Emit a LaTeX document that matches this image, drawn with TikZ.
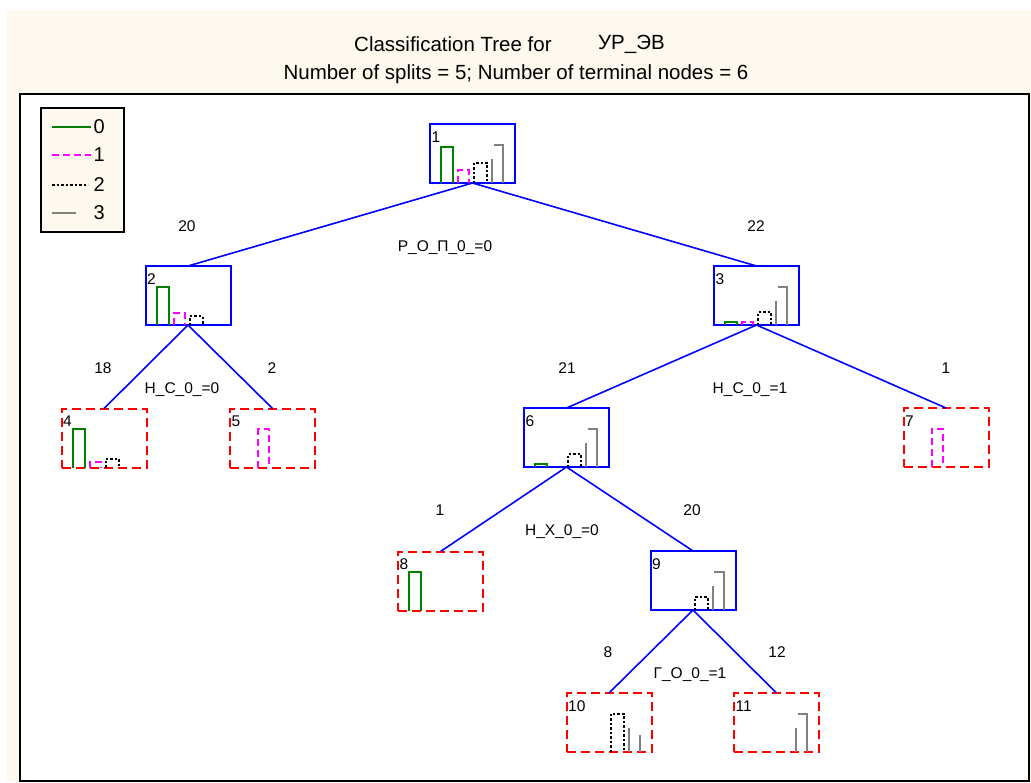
\documentclass[tikz,border=0pt]{standalone}
\usepackage{fontspec}
\setmainfont{Liberation Sans}
\usetikzlibrary{calc}
\definecolor{cream}{RGB}{254,249,238}
\definecolor{dgreen}{RGB}{0,128,0}
\definecolor{mag}{RGB}{255,0,255}
\definecolor{gry}{RGB}{128,128,128}
\tikzset{
  splitbox/.style={draw=blue, line width=2pt, minimum width=85pt, minimum height=59pt, inner sep=0pt, outer sep=0pt},
  termbox/.style={draw=red, line width=2pt, dash pattern=on 9pt off 5pt, minimum width=85pt, minimum height=59pt, inner sep=0pt, outer sep=0pt},
  conn/.style={blue, line width=1.6pt},
  lbl/.style={font=\fontsize{15.5}{18}\selectfont, inner sep=0pt},
  numlbl/.style={font=\fontsize{15.5}{18}\selectfont, inner sep=0pt, anchor=base west},
  legtxt/.style={font=\fontsize{20}{24}\selectfont, inner sep=0pt, anchor=west},
  ttl/.style={font=\fontsize{20.5}{24}\selectfont, inner sep=0pt},
  cA/.style={dgreen, line width=2pt},
  cB/.style={mag, line width=2pt, dash pattern=on 7pt off 4pt},
  cC/.style={black, line width=2pt, dash pattern=on 2.5pt off 2pt},
  cD/.style={gry, line width=2pt, dash pattern=on 24pt off 16pt on 300pt off 1pt},
}
\newcommand\hbars[5]{%
  \ifdim #2pt>0pt \draw[cA] ($(#1.south west)+(11,0)$) -- ++(0,-#2) -- ++(12,0) -- ++(0,#2);\fi
  \ifdim #3pt>0pt \draw[cB] ($(#1.south west)+(28,0)$) -- ++(0,-#3) -- ++(11,0) -- ++(0,#3);\fi
  \ifdim #4pt>0pt \draw[cC] ($(#1.south west)+(44,0)$) -- ++(0,-#4) -- ++(13,0) -- ++(0,#4);\fi
  \ifdim #5pt>0pt \draw[cD] ($(#1.south west)+(62,0)$) -- ++(0,-#5) -- ++(11,0) -- ++(0,#5);\fi}
\newcommand\boxnum[2]{\node[numlbl] at ($(#1.north west)+(1.5,18)$) {#2};}
\begin{document}
\begin{tikzpicture}[x=1pt,y=-1pt]
\useasboundingbox (0,0) rectangle (1031,782);
\fill[white] (0,0) rectangle (1031,782);
\fill[cream] (7,10) rectangle (1031,782);
\draw[line width=2pt, fill=white] (20,94) rectangle (1029,781);

% title
\node[ttl, anchor=west] (t1) at (354,44) {Classification Tree for};
\node[ttl, anchor=west] (t2) at (598,44) {УР\_ЭВ};
\node[ttl] (t3) at (516,74) {Number of splits = 5; Number of terminal nodes = 6};

% legend
\node[draw=black, line width=1.5pt, fill=cream, minimum width=83pt, minimum height=124pt, inner sep=0pt, outer sep=0pt] (leg) at (82.5,170) {};
\coordinate (la0) at (52,127); \coordinate (lb0) at (91,127);
\coordinate (la1) at (52,155); \coordinate (lb1) at (91,155);
\coordinate (la2) at (52,185); \coordinate (lb2) at (88,185);
\coordinate (la3) at (52,213); \coordinate (lb3) at (91,213);
\draw[cA] (la0) -- (lb0);
\draw[cB] (la1) -- (lb1);
\draw[cC] (la2) -- (lb2);
\draw[cD] (la3) -- (lb3);
\node[legtxt] (lt0) at (93.5,127) {0};
\node[legtxt] (lt1) at (93.5,155) {1};
\node[legtxt] (lt2) at (93.5,185) {2};
\node[legtxt] (lt3) at (93.5,213) {3};

% tree boxes
\node[splitbox] (n1) at (472.5,153.5) {};
\node[splitbox] (n2) at (188,295.5) {};
\node[splitbox] (n3) at (756.5,295.5) {};
\node[termbox] (n4) at (104,438) {};
\node[termbox] (n5) at (272.5,438) {};
\node[splitbox] (n6) at (566.5,437.5) {};
\node[termbox] (n7) at (946,437.5) {};
\node[termbox] (n8) at (440.5,581) {};
\node[splitbox] (n9) at (693,580.5) {};
\node[termbox] (n10) at (609,722.5) {};
\node[termbox] (n11) at (776.5,722.5) {};

% connectors
\draw[conn] (n1.south) -- (n2.north);
\draw[conn] (n1.south) -- (n3.north);
\draw[conn] (n2.south) -- (n4.north);
\draw[conn] (n2.south) -- (n5.north);
\draw[conn] (n3.south) -- (n6.north);
\draw[conn] (n3.south) -- (n7.north);
\draw[conn] (n6.south) -- (n8.north);
\draw[conn] (n6.south) -- (n9.north);
\draw[conn] (n9.south) -- (n10.north);
\draw[conn] (n9.south) -- (n11.north);

% box numbers
\boxnum{n1}{1}\boxnum{n2}{2}\boxnum{n3}{3}\boxnum{n4}{4}\boxnum{n5}{5}\boxnum{n6}{6}
\boxnum{n7}{7}\boxnum{n8}{8}\boxnum{n9}{9}\boxnum{n10}{10}\boxnum{n11}{11}

% histograms
\hbars{n1}{36}{12.8}{20.5}{38.5}
\hbars{n2}{38.5}{11.8}{8.9}{0}
\hbars{n3}{2.6}{2.6}{12.8}{38.5}
\hbars{n4}{38.5}{5.9}{8.9}{0}
\hbars{n5}{0}{38.5}{0}{0}
\hbars{n6}{2.6}{0}{12.8}{38.5}
\hbars{n7}{0}{38.5}{0}{0}
\hbars{n8}{38.5}{0}{0}{0}
\hbars{n9}{0}{0}{12.8}{38.5}
\hbars{n10}{0}{0}{38.5}{23.1}
\hbars{n11}{0}{0}{0}{38.5}

% counts and split labels
\node[lbl] (c2) at (187,226) {20};
\node[lbl] (c3) at (756,226) {22};
\node[lbl] (s1) at (445,248) {Р\_О\_П\_0\_=0};
\node[lbl] (c4) at (103,368) {18};
\node[lbl] (c5) at (272,368) {2};
\node[lbl] (s2) at (182,390) {Н\_С\_0\_=0};
\node[lbl] (c6) at (567,368) {21};
\node[lbl] (c7) at (946,368) {1};
\node[lbl] (s3) at (750,390) {Н\_С\_0\_=1};
\node[lbl] (c8) at (440,510) {1};
\node[lbl] (c9) at (692,510) {20};
\node[lbl] (s6) at (562,532) {Н\_Х\_0\_=0};
\node[lbl] (c10) at (608,652) {8};
\node[lbl] (c11) at (777,652) {12};
\node[lbl] (s9) at (690,675) {Г\_О\_0\_=1};
\end{tikzpicture}
\end{document}
